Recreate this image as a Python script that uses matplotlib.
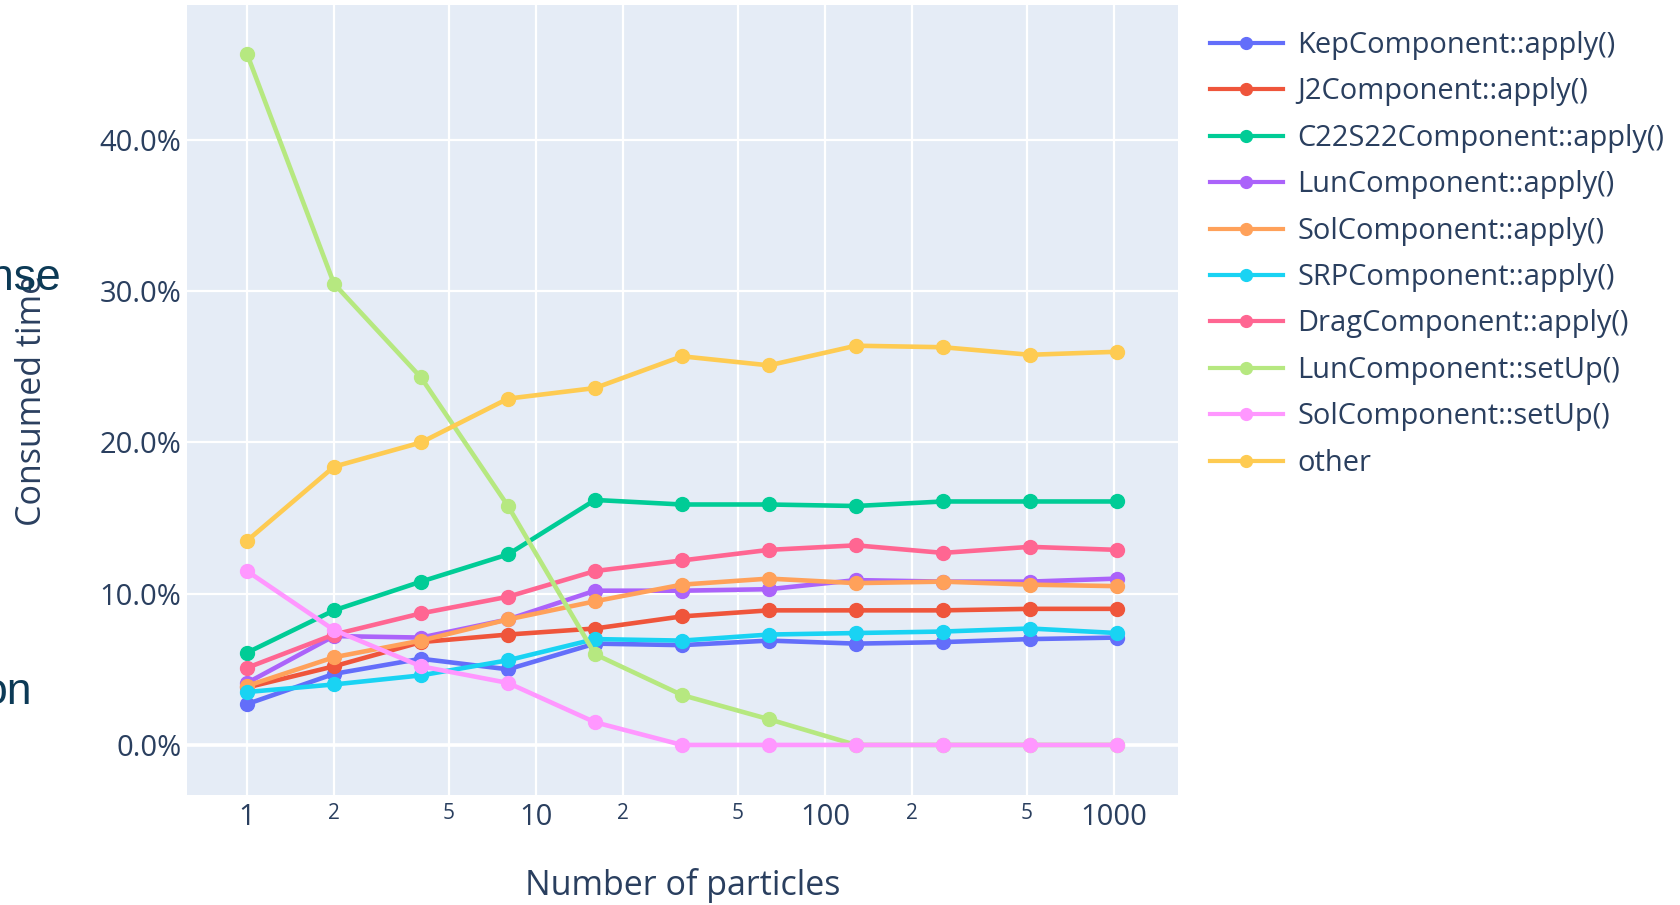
import matplotlib
matplotlib.use("Agg")
import matplotlib.pyplot as plt
from matplotlib.ticker import FixedLocator, FixedFormatter

# Number of particles in each benchmark run
n_particles = [1, 2, 4, 8, 16, 32, 64, 128, 256, 512, 1024]

# Share of total run time spent in each routine (%)
kep_apply = [2.7, 4.7, 5.7, 5.0, 6.7, 6.6, 6.9, 6.7, 6.8, 7.0, 7.1]
j2_apply = [3.8, 5.2, 6.8, 7.3, 7.7, 8.5, 8.9, 8.9, 8.9, 9.0, 9.0]
c22s22_apply = [6.1, 8.9, 10.8, 12.6, 16.2, 15.9, 15.9, 15.8, 16.1, 16.1, 16.1]
lun_apply = [4.1, 7.2, 7.1, 8.3, 10.2, 10.2, 10.3, 10.9, 10.8, 10.8, 11.0]
sol_apply = [3.9, 5.8, 6.9, 8.3, 9.5, 10.6, 11.0, 10.7, 10.8, 10.6, 10.5]
srp_apply = [3.5, 4.0, 4.6, 5.6, 7.0, 6.9, 7.3, 7.4, 7.5, 7.7, 7.4]
drag_apply = [5.1, 7.3, 8.7, 9.8, 11.5, 12.2, 12.9, 13.2, 12.7, 13.1, 12.9]
lun_setup = [45.7, 30.5, 24.3, 15.8, 6.0, 3.3, 1.7, 0.0, 0.0, 0.0, 0.0]
sol_setup = [11.5, 7.6, 5.2, 4.1, 1.5, 0.0, 0.0, 0.0, 0.0, 0.0, 0.0]
other = [13.5, 18.4, 20.0, 22.9, 23.6, 25.7, 25.1, 26.4, 26.3, 25.8, 26.0]

series_names = [
    "KepComponent::apply()",
    "J2Component::apply()",
    "C22S22Component::apply()",
    "LunComponent::apply()",
    "SolComponent::apply()",
    "SRPComponent::apply()",
    "DragComponent::apply()",
    "LunComponent::setUp()",
    "SolComponent::setUp()",
    "other",
]
series_values = [kep_apply, j2_apply, c22s22_apply, lun_apply, sol_apply,
                 srp_apply, drag_apply, lun_setup, sol_setup, other]
series_colors = ["#636EFA", "#EF553B", "#00CC96", "#AB63FA", "#FFA15A",
                 "#19D3F3", "#FF6692", "#B6E880", "#FF97FF", "#FECB52"]

y_ticks = [0, 10, 20, 30, 40]
x_major = [1, 10, 100, 1000]
x_minor = [2, 5, 20, 50, 200, 500]
x_minor_labels = ["2", "5", "2", "5", "2", "5"]

TEXT = "#2a3f5f"
BG = "#E5ECF6"

plt.rcParams["font.family"] = ["Open Sans", "DejaVu Sans"]

W, H = 1680, 905
fig = plt.figure(figsize=(W / 100, H / 100), dpi=100)
fig.patch.set_facecolor("white")

left, right, top, bottom = 187, 1178, 5, 795
ax = fig.add_axes([left / W, 1 - bottom / H, (right - left) / W, (bottom - top) / H])
ax.set_facecolor(BG)
for s in ax.spines.values():
    s.set_visible(False)

handles = []
for name, vals, col in zip(series_names, series_values, series_colors):
    h, = ax.plot(n_particles, vals, color=col, lw=3.3, marker="o", ms=10,
                 mec=col, mfc=col, label=name, zorder=3, clip_on=False)
    handles.append(h)

ax.set_xscale("log")
ax.set_xlim(0.62, 1665)
ax.set_ylim(-3.31, 48.93)

ax.xaxis.set_major_locator(FixedLocator(x_major))
ax.xaxis.set_major_formatter(FixedFormatter([str(v) for v in x_major]))
ax.xaxis.set_minor_locator(FixedLocator(x_minor))
ax.xaxis.set_minor_formatter(FixedFormatter(x_minor_labels))
ax.set_yticks(y_ticks)
ax.set_yticklabels([f"{v:.1f}%" for v in y_ticks])

ax.tick_params(axis="both", which="both", length=0, colors=TEXT)
ax.tick_params(axis="x", which="major", labelsize=21, pad=6)
ax.tick_params(axis="x", which="minor", labelsize=15, pad=6)
ax.tick_params(axis="y", labelsize=21, pad=4)

ax.grid(True, which="both", axis="x", color="white", lw=1.6, zorder=0)
ax.grid(True, which="major", axis="y", color="white", lw=1.6, zorder=0)
ax.axhline(0, color="white", lw=2.6, zorder=1)
ax.set_axisbelow(True)

# axis titles
fig.text((left + right) / 2 / W, 10 / H, "Number of particles", ha="center",
         va="baseline", fontsize=24.5, color=TEXT)
fig.text(32 / W, 1 - 400 / H, "Consumed time", rotation=90, ha="center",
         va="center", fontsize=24.5, color=TEXT)

leg = fig.legend(handles=handles, loc="upper left",
                 bbox_to_anchor=(1210 / W, 1 - 31 / H), frameon=False,
                 fontsize=20.9, handlelength=2.5, handletextpad=0.5,
                 labelspacing=0.60, borderpad=0, borderaxespad=0,
                 markerscale=0.85)
for t in leg.get_texts():
    t.set_color(TEXT)
for lh in leg.get_lines():
    lh.set_linewidth(3.0)

# slide text fragments at the left edge
fig.text(61 / W, 1 - 290 / H, "nse", ha="right", va="baseline",
         fontsize=32, color="#0c3a56", family="Liberation Sans", zorder=10)
fig.text(32 / W, 1 - 704 / H, "on", ha="right", va="baseline",
         fontsize=32, color="#0c3a56", family="Liberation Sans", zorder=10)

fig.savefig("out.png", dpi=100, facecolor="white")
